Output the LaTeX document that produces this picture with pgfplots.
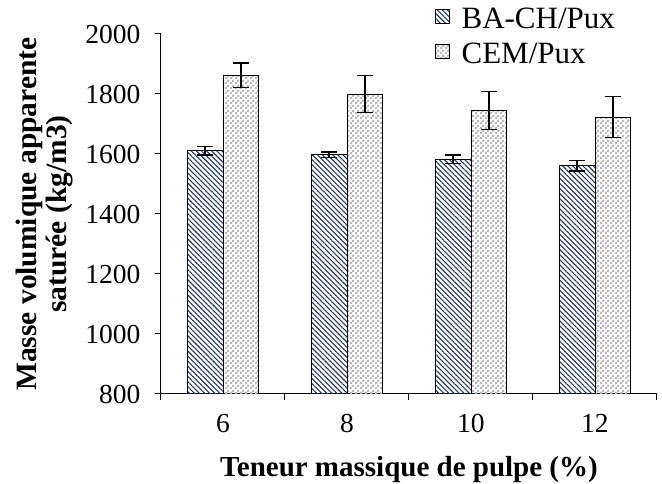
\documentclass[border=0pt]{standalone}
\usepackage{fontspec}
\setmainfont{Liberation Serif}
\usepackage{pgfplots}
\pgfplotsset{compat=1.18}
\usetikzlibrary{patterns.meta}

\definecolor{hatchblue}{HTML}{1F3864}

\tikzdeclarepattern{
  name=checker, type=uncolored,
  bottom left={(0pt,0pt)}, top right={(5pt,5pt)}, tile size={(5pt,5pt)},
  code={
    \fill (0pt,0pt) rectangle (2.5pt,2.5pt);
    \fill (2.5pt,2.5pt) rectangle (5pt,5pt);
  }
}

\begin{document}
\begin{tikzpicture}
  \path[use as bounding box] (-161pt,-90pt) rectangle (501pt,394pt);
  \begin{axis}[
      at={(0pt,0pt)}, anchor=south west,
      scale only axis,
      width=496pt, height=360pt,
      xmin=-0.5, xmax=3.5,
      ymin=800, ymax=2000,
      axis lines*=left,
      axis line style={line width=1pt},
      xtick={0,1,2,3},
      xticklabels={6,8,10,12},
      minor xtick={-0.5,0.5,1.5,2.5,3.5},
      ytick={800,1000,...,2000},
      tick align=outside,
      major tick length=6pt,
      minor tick length=6pt,
      major x tick style={draw=none},
      tick style={line width=1pt, black},
      /pgf/number format/assume math mode=true,
      /pgf/number format/1000 sep={},
      tick label style={font=\fontsize{27.5}{30}\selectfont},
      yticklabel style={xshift=-11pt},
      xticklabel style={yshift=-11pt},
      xlabel={Teneur massique de pulpe (\%)},
      xlabel style={at={(axis description cs:0.5,0)}, anchor=base, yshift=-83pt,
        font=\fontsize{29}{32}\selectfont\bfseries},
      ylabel={Masse volumique apparente\\saturée (kg/m3)},
      ylabel style={at={(axis description cs:-0.292,0.5)}, anchor=north, inner sep=0pt,
        align=center, font=\fontsize{29.5}{30}\selectfont\bfseries},
      ybar,
      bar width=0.286,
      legend style={draw=none, fill=none, inner sep=0pt,
        at={(axis description cs:0.552,1.078)}, anchor=north west,
        font=\fontsize{31}{33}\selectfont, row sep=9pt,
        /tikz/every odd column/.append style={column sep=10pt}},
      legend cell align=left,
      legend image code/.code={
        \draw[#1, draw=black, line width=0.6pt] (0pt,-4pt) rectangle (14pt,10pt);
      },
      error bars/error bar style={line width=1.6pt, black},
      error bars/error mark options={rotate=90, mark size=8pt, line width=1.6pt, black},
    ]

    \addplot[bar shift=-0.143, draw=black, line width=0.8pt,
      pattern={Lines[angle=-45, distance=3.6pt, line width=1.1pt]}, pattern color=hatchblue,
      error bars/.cd, y dir=both, y explicit]
      coordinates {(0,1611) +- (0,14) (1,1597) +- (0,9) (2,1582) +- (0,14) (3,1561) +- (0,17)};
    \addlegendentry{BA-CH/Pux}

    \addplot[bar shift=0.143, draw=black, line width=0.8pt,
      pattern=checker, pattern color=gray!55,
      error bars/.cd, y dir=both, y explicit]
      coordinates {(0,1863) +- (0,41) (1,1800) +- (0,62) (2,1745) +- (0,63) (3,1723) +- (0,68)};
    \addlegendentry{CEM/Pux}
  \end{axis}
\end{tikzpicture}
\end{document}
